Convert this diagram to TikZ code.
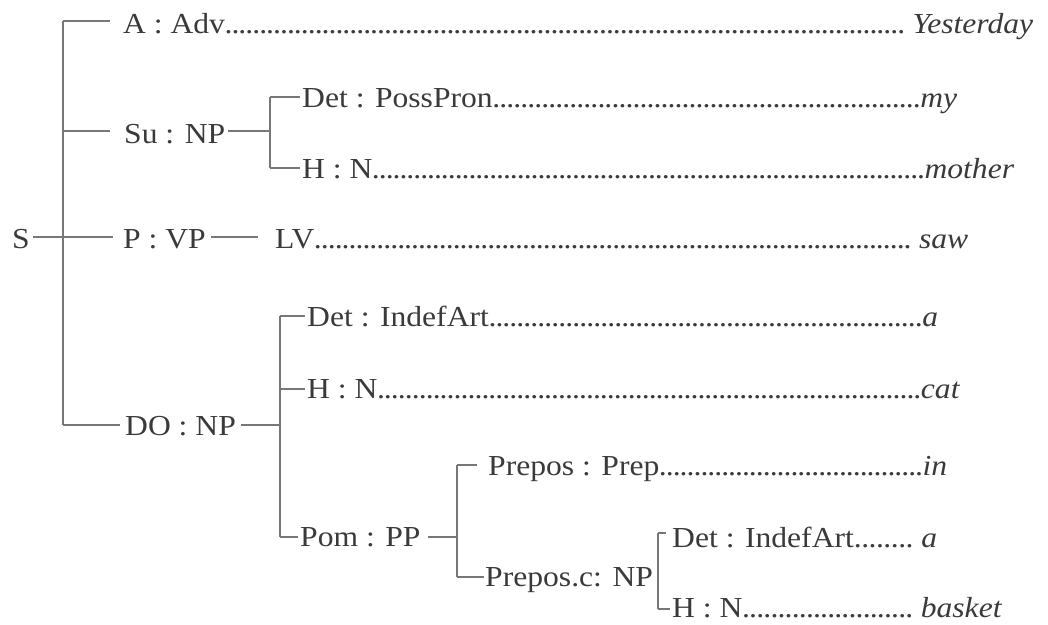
\documentclass[tikz,border=0pt]{standalone}
\usepackage{fontspec}
\setmainfont{Liberation Serif}[FakeStretch=1.09]
\definecolor{txt}{HTML}{3A3A3A}
\definecolor{ln}{HTML}{777777}
\newcommand{\lead}[3]{\hbox to #1pt{#2\xleaders\hbox to 6.9pt{\hss.\hss}\hfill#3}}
\begin{document}
\begin{tikzpicture}[x=1pt,y=-1pt,
  lbl/.style={anchor=base west,inner sep=0pt,text=txt,font=\fontsize{29}{32}\selectfont},
  lne/.style={draw=ln,line width=1.2pt}]
\useasboundingbox (0,0) rectangle (1048,624);
% text nodes
\node[lbl] (S) at (12,248) {S};
\node[lbl] (a) at (123,33) {\lead{910}{A : Adv}{\ \textit{Yesterday}}};
\node[lbl] (su) at (124,143) {Su : NP};
\node[lbl] (det1) at (302,107) {\lead{655}{Det : PossPron}{\textit{my}}};
\node[lbl] (h1) at (302,178) {\lead{712}{H : N}{\textit{mother}}};
\node[lbl] (p) at (123,248) {P : VP};
\node[lbl] (lv) at (275,248) {\lead{693}{LV}{\ \textit{saw}}};
\node[lbl] (do) at (125,435) {DO : NP};
\node[lbl] (det2) at (307,326) {\lead{631}{Det : IndefArt}{\textit{a}}};
\node[lbl] (h2) at (307,398) {\lead{653}{H : N}{\textit{cat}}};
\node[lbl] (pom) at (300,546) {Pom : PP};
\node[lbl] (prep) at (488,475) {\lead{459}{Prepos : Prep}{\textit{in}}};
\node[lbl] (pc) at (485,586) {Prepos.c: NP};
\node[lbl] (det3) at (672,547) {\lead{265}{Det : IndefArt}{\ \textit{a}}};
\node[lbl] (h3) at (672,617) {\lead{330}{H : N}{\ \textit{basket}}};
% junctions
\coordinate (mt) at (63,21);
\coordinate (mb) at (63,425);
\coordinate (sut) at (270,97);
\coordinate (sub) at (270,168);
\coordinate (dot) at (280,316);
\coordinate (dob) at (280,537);
\coordinate (pmt) at (457,465);
\coordinate (pmb) at (457,577);
\coordinate (pct) at (658,533);
\coordinate (pcb) at (658,609);
% main spine
\draw[lne] (mt) -- (mb);
\draw[lne] (mt) -- (110,21);
\draw[lne] (63,131) -- (110,131);
\draw[lne] (33,237) -- (113,237);
\draw[lne] (mb) -- (120,425);
% Su : NP
\draw[lne] (228,131) -- (270,131);
\draw[lne] (sut) -- (sub);
\draw[lne] (sut) -- (300,97);
\draw[lne] (sub) -- (300,168);
% P : VP
\draw[lne] (211,237) -- (258,237);
% DO : NP
\draw[lne] (241,425) -- (280,425);
\draw[lne] (dot) -- (dob);
\draw[lne] (dot) -- (305,316);
\draw[lne] (280,389) -- (305,389);
\draw[lne] (dob) -- (298,537);
% Pom : PP
\draw[lne] (428,537) -- (457,537);
\draw[lne] (pmt) -- (pmb);
\draw[lne] (pmt) -- (477,465);
\draw[lne] (pmb) -- (484,577);
% Prepos.c : NP
\draw[lne] (pct) -- (pcb);
\draw[lne] (pct) -- (666,533);
\draw[lne] (pcb) -- (670,609);
\end{tikzpicture}
\end{document}
